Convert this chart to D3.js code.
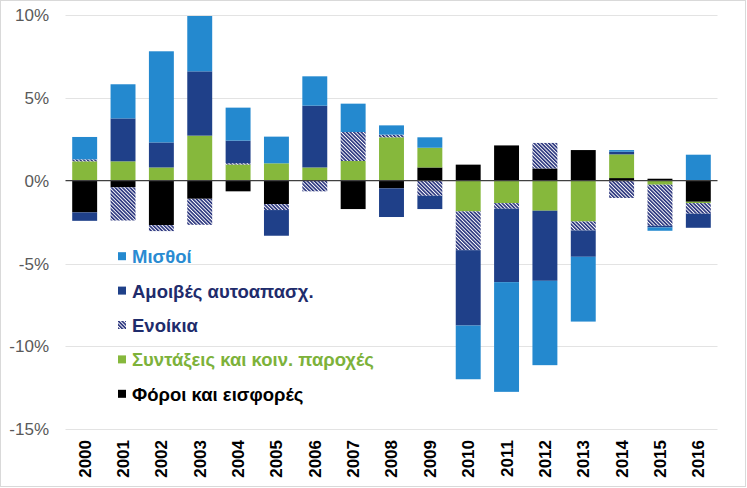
<!DOCTYPE html>
<html><head><meta charset="utf-8">
<script src="https://cdn.jsdelivr.net/npm/d3@7"></script>
<style>body{margin:0;background:#fff;}svg{display:block;font-family:"Liberation Sans",Arial,sans-serif;}</style>
</head><body>
<svg id="chart" width="747" height="488"></svg>
<script>
const years = ["2000","2001","2002","2003","2004","2005","2006","2007","2008","2009","2010","2011","2012","2013","2014","2015","2016"];
const misthoi   = [1.35, 2.06, 5.5, 3.34, 1.99, 1.61, 1.77, 1.71, 0.56, 0.63, -3.24, -6.62, -5.09, -3.91, 0.1, -0.2, 1.57];
const amoives   = [-0.51, 2.59, 1.51, 3.88, 1.36, -1.55, 3.73, 0, -1.73, -0.8, -4.55, -4.43, -4.23, -1.59, 0.16, -0.1, -0.85];
const enoikia   = [0.12, -2.0, -0.36, -1.57, 0.08, -0.36, -0.64, 1.75, 0.16, -0.91, -2.34, -0.34, 1.54, -0.54, -1.04, -2.48, -0.64];
const syntaxeis = [1.17, 1.17, 0.8, 2.72, 0.98, 1.05, 0.8, 1.19, 2.62, 1.19, -1.85, -1.35, -1.81, -2.46, 1.43, -0.24, -0.08];
const foroi     = [-1.91, -0.4, -2.68, -1.09, -0.64, -1.41, 0, -1.71, -0.46, 0.8, 0.97, 2.13, 0.74, 1.85, 0.16, 0.12, -1.27];
const yTicks = [10, 5, 0, -5, -10, -15];

const seriesDefs = [
  {key:"Φόροι και εισφορές", values:foroi, fill:"#000000", text:"#000000"},
  {key:"Συντάξεις και κοιν. παροχές", values:syntaxeis, fill:"#86B83C", text:"#7DB23A"},
  {key:"Ενοίκια", values:enoikia, fill:"url(#hatch)", text:"#1F2C6C"},
  {key:"Αμοιβές αυτοαπασχ.", values:amoives, fill:"#1F4089", text:"#1F2C6C"},
  {key:"Μισθοί", values:misthoi, fill:"#2489CF", text:"#2A8BD2"}
];
const legendOrder = ["Μισθοί","Αμοιβές αυτοαπασχ.","Ενοίκια","Συντάξεις και κοιν. παροχές","Φόροι και εισφορές"];

const rows = years.map((y,i)=>{const r={year:y}; seriesDefs.forEach(s=>r[s.key]=s.values[i]); return r;});
const stack = d3.stack().keys(seriesDefs.map(s=>s.key)).offset(d3.stackOffsetDiverging);
const stacked = stack(rows);

const svg = d3.select("#chart");
const defs = svg.append("defs");
const pat = defs.append("pattern").attr("id","hatch").attr("patternUnits","userSpaceOnUse")
  .attr("width",2.6).attr("height",2.6).attr("patternTransform","rotate(-45)");
pat.append("rect").attr("width",2.6).attr("height",2.6).attr("fill","#ffffff");
pat.append("rect").attr("x",0).attr("y",0).attr("width",1.6).attr("height",2.6).attr("fill","#25307A");

svg.append("rect").attr("x",0.5).attr("y",0.5).attr("width",745).attr("height",486)
  .attr("fill","#fff").attr("stroke","#D9D9D9");

const x = d3.scaleBand().domain(years).range([65.5,717.5]).paddingInner(0.35).paddingOuter(0.175);
const y = d3.scaleLinear().domain([-15,10]).range([429.3,15]);

// gridlines
svg.append("g").selectAll("line").data(yTicks.filter(t=>t!==0)).join("line")
  .attr("x1",65.5).attr("x2",717.5).attr("y1",d=>Math.round(y(d))+0.5).attr("y2",d=>Math.round(y(d))+0.5)
  .attr("stroke","#E3E3E3").attr("stroke-width",1);

// y axis labels
const yAxis = d3.axisLeft(y).tickValues(yTicks).tickFormat(d=>d+"%").tickSize(0).tickPadding(0);
const ya = svg.append("g").attr("transform","translate(49,0)").call(yAxis);
ya.select(".domain").remove();
ya.selectAll("text").attr("font-size",17).attr("fill","#595959").attr("font-family","'Liberation Sans',Arial,sans-serif");

// bars
const fillOf = Object.fromEntries(seriesDefs.map(s=>[s.key,s.fill]));
svg.append("g").selectAll("g").data(stacked).join("g").attr("fill",d=>fillOf[d.key])
  .selectAll("rect").data(d=>d).join("rect")
  .attr("x",d=>x(d.data.year)).attr("width",x.bandwidth())
  .attr("y",d=>y(Math.max(d[0],d[1]))).attr("height",d=>Math.abs(y(d[0])-y(d[1])));

// zero line
svg.append("line").attr("x1",65.5).attr("x2",717.5).attr("y1",y(0)).attr("y2",y(0))
  .attr("stroke","#404040").attr("stroke-width",1.2);

// x axis labels
const xAxis = d3.axisBottom(x).tickSize(0).tickPadding(0);
const xa = svg.append("g").attr("transform","translate(0,440)").call(xAxis);
xa.select(".domain").remove();
xa.selectAll("text").attr("font-size",17).attr("font-weight","bold").attr("fill","#000")
  .attr("font-family","'Liberation Sans',Arial,sans-serif")
  .attr("transform","rotate(-90)").attr("text-anchor","end").attr("x",0).attr("y",0).attr("dy","0.35em");

// legend
const legDefs = legendOrder.map(k=>seriesDefs.find(s=>s.key===k));
const leg = svg.append("g").selectAll("g").data(legDefs).join("g")
  .attr("transform",(d,i)=>`translate(118,${256.7+i*34.4})`);
leg.append("rect").attr("x",0).attr("y",-4.5).attr("width",8).attr("height",8).attr("fill",d=>d.fill);
leg.append("text").attr("x",14).attr("y",0).attr("dy","0.35em").attr("font-size",18.5).attr("font-weight","bold")
  .attr("fill",d=>d.text).text(d=>d.key);
</script>
</body></html>
